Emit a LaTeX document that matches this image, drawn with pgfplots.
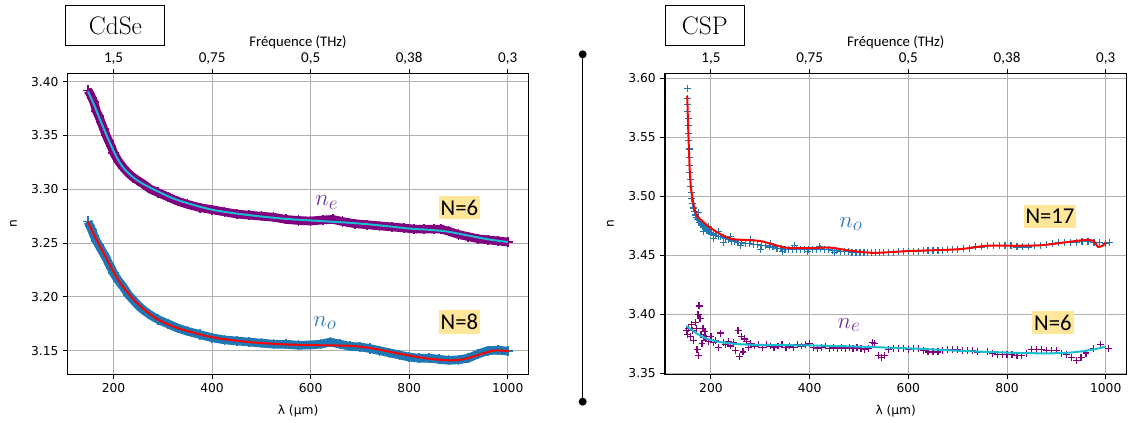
\documentclass[border=0pt]{standalone}
\usepackage{pgfplots}
\pgfplotsset{compat=1.18}
\usepackage{fontspec}
\newfontfamily\dejavu{DejaVu Sans}
\newfontfamily\calibri{Carlito}
\definecolor{mplpurple}{HTML}{800080}
\definecolor{tabblue}{HTML}{1F77B4}
\definecolor{tabcyan}{HTML}{17BECF}
\definecolor{gridgray}{HTML}{B0B0B0}
\definecolor{labpurple}{HTML}{7030A0}
\definecolor{labblue}{HTML}{2E75B6}
\definecolor{nbox}{HTML}{FFE699}

\tikzset{nlab/.style={fill=nbox, inner xsep=1.5pt, inner ysep=3pt, font=\calibri\fontsize{17}{20}\selectfont},
  nname/.style={font=\fontsize{19}{22}\selectfont}}

\pgfplotsset{
  panel/.style={
    scale only axis, height=225.75pt,
    xmin=107, xmax=1042,
    clip mode=individual,
    xtick={200,400,600,800,1000},
    tick align=outside, major tick length=3.4pt,
    xtick pos=bottom, ytick pos=left,
    grid=major, major grid style={gridgray, line width=0.75pt},
    axis line style={black, line width=0.8pt},
    every tick/.style={black, line width=0.8pt},
    /pgf/number format/assume math mode=true,
    tick label style={font=\dejavu\fontsize{9.2}{11}\selectfont},
    xticklabel style={/pgf/number format/1000 sep={}},
    yticklabel style={/pgf/number format/fixed, /pgf/number format/fixed zerofill, /pgf/number format/precision=2},
    scaled y ticks=false,
    xlabel={λ (µm)}, ylabel={n},
    every axis x label/.style={at={(axis description cs:0.5,0)}, anchor=center, yshift=-27.5pt, font=\dejavu\fontsize{9.2}{11}\selectfont},
    every axis y label/.style={at={(axis description cs:-0.118,0.5)}, anchor=center, rotate=90, font=\dejavu\fontsize{9.2}{11}\selectfont},
  },
  toppanel/.style={
    scale only axis, height=225.75pt,
    xmin=107, xmax=1042, ymin=0, ymax=1, ytick=\empty,
    xtick={200,400,600,800,1000},
    xticklabels={{1,5},{0,75},{0,5},{0,38},{0,3}},
    xtick pos=top, xticklabel pos=top,
    tick align=outside, major tick length=3.4pt,
    axis line style={black, line width=0.8pt},
    every tick/.style={black, line width=0.8pt},
    tick label style={font=\calibri\fontsize{11.3}{13}\selectfont},
    xlabel={Fréquence (THz)},
    every axis x label/.style={at={(axis description cs:0.5,1)}, anchor=center, yshift=23.5pt, font=\calibri\fontsize{11}{13}\selectfont},
  },
  band/.style={line width=6.5pt, mark=+, mark size=3.8pt, mark options={line width=1.2pt, solid}},
  crosses/.style={only marks, mark=+, mark size=2.6pt, mark options={line width=0.9pt}},
  fit/.style={line width=1.5pt, smooth, tension=0.5},
}

\begin{document}
\begin{tikzpicture}
\path[use as bounding box] (0pt,0pt) rectangle (846pt,317.25pt);

% ---------------- Left panel: CdSe ----------------
\begin{axis}[panel, at={(50.8pt,36.5pt)}, anchor=south west, width=345.5pt,
  ymin=3.128, ymax=3.4078, ytick={3.15,3.20,3.25,3.30,3.35,3.40}]
\addplot[mplpurple, band] coordinates {
(148,3.392)(152,3.389)(156,3.385)(160,3.381)(165,3.373)(170,3.368)(175,3.362)(180,3.356)
(185,3.350)(190,3.345)(195,3.340)(200,3.334)(210,3.326)(220,3.320)(230,3.315)(240,3.311)
(250,3.308)(260,3.305)(275,3.300)(290,3.297)(310,3.293)(330,3.289)(350,3.286)(375,3.283)
(400,3.281)(425,3.279)(450,3.277)(475,3.276)(500,3.275)(525,3.274)(550,3.272)(575,3.271)
(600,3.2705)(625,3.2715)(645,3.272)(665,3.270)(690,3.268)(715,3.267)(740,3.266)(765,3.265)
(790,3.264)(810,3.263)(830,3.263)(850,3.263)(865,3.263)(880,3.261)(900,3.258)(920,3.256)
(940,3.254)(960,3.253)(980,3.252)(1000,3.251)};
\addplot[tabcyan, fit] coordinates {
(148,3.391)(160,3.379)(175,3.362)(190,3.346)(205,3.331)(220,3.320)(240,3.311)(260,3.305)
(290,3.298)(330,3.290)(400,3.281)(475,3.276)(550,3.2725)(620,3.2705)(690,3.2685)(750,3.266)
(800,3.2635)(850,3.262)(880,3.2605)(920,3.257)(960,3.2535)(1000,3.251)};
\addplot[tabblue, band] coordinates {
(148,3.270)(152,3.266)(156,3.262)(160,3.257)(165,3.252)(170,3.248)(175,3.244)(180,3.240)
(185,3.236)(190,3.231)(195,3.227)(200,3.222)(210,3.215)(220,3.209)(230,3.202)(240,3.197)
(250,3.192)(260,3.188)(275,3.183)(290,3.179)(310,3.175)(330,3.171)(350,3.168)(375,3.165)
(400,3.162)(425,3.160)(450,3.159)(475,3.158)(500,3.157)(525,3.156)(550,3.156)(575,3.155)
(600,3.1553)(620,3.156)(640,3.158)(660,3.156)(680,3.154)(700,3.1535)(720,3.152)(740,3.150)
(760,3.148)(780,3.146)(800,3.144)(820,3.143)(840,3.143)(860,3.142)(880,3.141)(900,3.1415)
(920,3.143)(940,3.147)(960,3.150)(980,3.1505)(1000,3.1495)};
\addplot[red, fit] coordinates {
(148,3.270)(160,3.258)(175,3.245)(190,3.232)(205,3.219)(220,3.209)(240,3.198)(260,3.189)
(290,3.179)(330,3.171)(400,3.1625)(475,3.158)(550,3.1558)(620,3.155)(680,3.1545)(720,3.1525)
(760,3.149)(800,3.1455)(840,3.1425)(880,3.141)(910,3.142)(940,3.146)(970,3.150)(990,3.150)(1002,3.1495)};
\node[text=labpurple, nname] at (axis cs:633,3.2875) {$n_e$};
\node[text=labblue, nname] at (axis cs:629,3.1755) {$n_o$};
\node[nlab] at (axis cs:902,3.283) {N=6};
\node[nlab] at (axis cs:902,3.1764) {N=8};
\end{axis}
\begin{axis}[toppanel, at={(50.8pt,36.5pt)}, anchor=south west, width=345.5pt]
\end{axis}

% ---------------- Right panel: CSP ----------------
\begin{axis}[panel, at={(498.75pt,36.5pt)}, anchor=south west, width=346.1pt,
  ymin=3.349, ymax=3.6042, ytick={3.35,3.40,3.45,3.50,3.55,3.60}]
\addplot[tabblue, crosses] coordinates {
(152,3.591)(152,3.583)(153,3.578)(153,3.572)(154,3.566)(154,3.560)(155,3.553)(155,3.547)
(156,3.540)(156,3.533)(157,3.526)(157,3.520)(158,3.514)(159,3.508)(160,3.503)(161,3.498)
(162,3.494)(164,3.490)(166,3.487)(168,3.484)(170,3.482)(173,3.480)(176,3.478)(180,3.476)
(184,3.474)(188,3.473)(192,3.471)(196,3.470)(200,3.469)(205,3.468)(210,3.467)(215,3.466)
(220,3.466)(225,3.465)(230,3.464)(236,3.463)(242,3.462)(248,3.462)(255,3.461)(262,3.461)
(270,3.460)(278,3.460)(286,3.459)(294,3.459)(302,3.458)(310,3.458)(318,3.457)(326,3.457)
(334,3.456)(342,3.456)(350,3.455)(358,3.455)(366,3.455)(374,3.455)(382,3.455)(390,3.455)
(398,3.455)(406,3.455)(414,3.455)(422,3.456)(430,3.455)(438,3.455)(446,3.454)(454,3.454)
(462,3.453)(470,3.453)(478,3.453)(486,3.452)(494,3.452)(502,3.452)(510,3.452)(518,3.452)
(526,3.452)(534,3.452)(542,3.452)(550,3.452)(560,3.452)(570,3.452)(580,3.453)(590,3.453)
(600,3.453)(610,3.453)(620,3.453)(630,3.454)(640,3.454)(650,3.454)(660,3.454)(670,3.454)
(680,3.455)(690,3.455)(700,3.455)(712,3.456)(724,3.456)(736,3.457)(748,3.457)(760,3.458)
(772,3.458)(784,3.458)(796,3.458)(808,3.458)(820,3.457)(832,3.457)(844,3.457)(856,3.458)
(868,3.458)(880,3.459)(892,3.460)(904,3.461)(916,3.461)(928,3.461)(940,3.461)(952,3.462)
(964,3.462)(976,3.461)(988,3.461)(1000,3.460)(1008,3.461)
(175,3.486)(185,3.470)(195,3.474)(205,3.464)(215,3.470)(225,3.461)(240,3.466)(260,3.458)
(280,3.463)(300,3.455)(320,3.460)(345,3.453)(370,3.458)(395,3.453)(420,3.457)(450,3.452)};
\addplot[red, fit] coordinates {
(152,3.585)(155,3.545)(158,3.515)(162,3.500)(170,3.485)(185,3.478)(205,3.4715)(240,3.464)
(300,3.462)(350,3.4565)(400,3.456)(440,3.4565)(480,3.454)(530,3.452)(600,3.4535)(700,3.455)
(760,3.458)(820,3.458)(870,3.4585)(920,3.461)(960,3.463)(975,3.462)(985,3.457)(995,3.4585)(1000,3.461)};
\addplot[mplpurple, crosses] coordinates {
(150,3.386)(152,3.383)(155,3.388)(158,3.381)(160,3.391)(162,3.386)(165,3.378)(168,3.393)
(170,3.388)(172,3.370)(174,3.400)(175,3.365)(176,3.407)(178,3.396)(180,3.383)(182,3.375)
(184,3.388)(186,3.380)(188,3.385)(190,3.379)(195,3.377)(200,3.381)(205,3.376)(210,3.378)
(215,3.372)(220,3.384)(225,3.376)(230,3.374)(235,3.377)(240,3.373)(245,3.376)(250,3.369)
(255,3.386)(258,3.364)(262,3.381)(265,3.368)(268,3.379)(272,3.377)(276,3.372)(280,3.375)
(288,3.373)(296,3.374)(304,3.372)(312,3.374)(320,3.373)(328,3.372)(336,3.373)(344,3.374)
(352,3.372)(360,3.373)(368,3.372)(376,3.374)(384,3.373)(392,3.374)(400,3.375)(408,3.372)
(416,3.371)(424,3.372)(432,3.373)(440,3.371)(448,3.372)(456,3.371)(464,3.372)(472,3.371)
(480,3.372)(488,3.371)(496,3.372)(504,3.371)(512,3.370)(520,3.371)(528,3.376)(532,3.375)
(540,3.365)(546,3.363)(552,3.365)(560,3.370)(570,3.371)(580,3.371)(590,3.371)(600,3.370)
(610,3.371)(620,3.371)(630,3.369)(640,3.368)(650,3.368)(660,3.368)(670,3.369)(680,3.370)
(690,3.370)(700,3.370)(710,3.369)(720,3.369)(730,3.369)(740,3.368)(760,3.368)(770,3.367)
(780,3.366)(790,3.366)(800,3.366)(810,3.366)(820,3.365)(830,3.365)(840,3.367)(850,3.370)
(860,3.370)(870,3.370)(880,3.369)(890,3.369)(900,3.369)(910,3.367)(920,3.366)(930,3.363)
(940,3.361)(950,3.363)(960,3.367)(975,3.371)(990,3.374)(1005,3.371)};
\addplot[tabcyan, fit] coordinates {
(150,3.390)(170,3.384)(190,3.3795)(210,3.377)(230,3.3757)(260,3.3745)(300,3.3739)(400,3.3735)
(500,3.3725)(560,3.3716)(630,3.3705)(700,3.3690)(780,3.3677)(850,3.3669)(900,3.3669)(930,3.3675)
(960,3.369)(985,3.371)(1000,3.3725)};
\node[text=labblue, nname] at (axis cs:484,3.4765) {$n_o$};
\node[text=labpurple, nname] at (axis cs:480,3.391) {$n_e$};
\node[nlab] at (axis cs:887,3.4827) {N=17};
\node[nlab] at (axis cs:893,3.3928) {N=6};
\end{axis}
\begin{axis}[toppanel, at={(498.75pt,36.5pt)}, anchor=south west, width=346.1pt]
\end{axis}

% divider and titles
\draw[line width=1.2pt] (437pt,276.5pt) -- (437pt,16pt);
\fill (437pt,276.5pt) circle (3pt);
\fill (437pt,16pt) circle (3pt);
\node[draw, line width=0.75pt, minimum width=74.25pt, minimum height=30pt, inner sep=0pt]
  at (86.6pt,297.75pt) {\fontsize{19}{22}\selectfont CdSe};
\node[draw, line width=0.75pt, minimum width=58.9pt, minimum height=30pt, inner sep=0pt]
  at (528.6pt,297.75pt) {\fontsize{19}{22}\selectfont CSP};
\end{tikzpicture}
\end{document}
